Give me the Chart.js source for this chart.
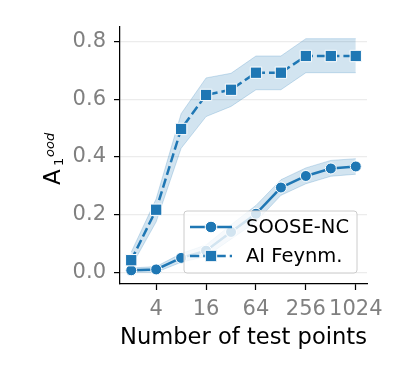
<!DOCTYPE html>
<html lang="en">
<head>
    <meta charset="UTF-8">
    <title>Test points chart</title>
    <script src="https://cdn.jsdelivr.net/npm/chart.js"></script>
    <style>
        body { margin: 0; background: #fff; }
        #wrap { width: 407px; height: 379px; }
    </style>
</head>
<body>
    <div id="wrap">
        <canvas id="pointsChart"></canvas>
    </div>

    <script>
        // values
        const testPoints = [2, 4, 8, 16, 32, 64, 128, 256, 512, 1024];
        const xTicks = [4, 16, 64, 256, 1024];
        const yTicks = [0.0, 0.2, 0.4, 0.6, 0.8];

        const sooseMean = [0.007, 0.010, 0.050, 0.075, 0.140, 0.203, 0.294, 0.334, 0.360, 0.367];
        const sooseLow  = [0.000, 0.000, 0.035, 0.055, 0.115, 0.175, 0.267, 0.307, 0.333, 0.340];
        const sooseHigh = [0.015, 0.020, 0.065, 0.095, 0.165, 0.232, 0.321, 0.362, 0.388, 0.394];

        const feynMean = [0.042, 0.217, 0.497, 0.615, 0.633, 0.692, 0.692, 0.750, 0.750, 0.750];
        const feynLow  = [0.020, 0.175, 0.430, 0.540, 0.575, 0.633, 0.633, 0.692, 0.692, 0.692];
        const feynHigh = [0.070, 0.255, 0.550, 0.674, 0.690, 0.750, 0.750, 0.810, 0.810, 0.810];

        const blue = '#1f77b4';
        const bandFill = 'rgba(31, 119, 180, 0.2)';
        const bandEdge = 'rgba(31, 119, 180, 0.22)';

        function pts(vals) {
            return testPoints.map((n, i) => ({ x: n, y: vals[i] }));
        }

        function band(vals, order, fill) {
            return {
                data: pts(vals),
                borderColor: bandEdge,
                borderWidth: 1,
                backgroundColor: bandFill,
                pointRadius: 0,
                fill: fill,
                order: order
            };
        }

        // legend box drawn inside the plot, like matplotlib's
        const legendBox = {
            id: 'legendBox',
            afterDraw(chart) {
                const ctx = chart.ctx;
                const a = chart.chartArea;
                const x1 = a.right - 10, y1 = a.bottom - 11;
                const x0 = x1 - 173, y0 = y1 - 62;
                ctx.save();
                ctx.beginPath();
                ctx.roundRect(x0, y0, x1 - x0, y1 - y0, 3);
                ctx.fillStyle = 'rgba(255,255,255,0.8)';
                ctx.fill();
                ctx.strokeStyle = '#cccccc';
                ctx.lineWidth = 1;
                ctx.stroke();

                const rows = [
                    { label: 'SOOSE-NC', dash: [], style: 'circle', y: y0 + 16 },
                    { label: 'AI Feynm.', dash: [9.25, 4], style: 'rect', y: y0 + 45 }
                ];
                rows.forEach(r => {
                    ctx.beginPath();
                    ctx.setLineDash(r.dash);
                    ctx.strokeStyle = blue;
                    ctx.lineWidth = 2.5;
                    ctx.moveTo(x0 + 6, r.y);
                    ctx.lineTo(x0 + 48, r.y);
                    ctx.stroke();
                    ctx.setLineDash([]);
                    ctx.fillStyle = blue;
                    ctx.strokeStyle = '#fff';
                    ctx.lineWidth = 1;
                    ctx.beginPath();
                    if (r.style === 'rect') {
                        ctx.rect(x0 + 27 - 5.7, r.y - 5.7, 11.4, 11.4);
                    } else {
                        ctx.arc(x0 + 27, r.y, 5.8, 0, Math.PI * 2);
                    }
                    ctx.fill();
                    ctx.stroke();
                    ctx.fillStyle = '#000';
                    ctx.font = '19.5px "DejaVu Sans"';
                    ctx.textBaseline = 'middle';
                    ctx.textAlign = 'left';
                    ctx.fillText(r.label, x0 + 62, r.y + 1);
                });
                ctx.restore();
            }
        };

        // y title A_1^ood, rotated
        const yTitle = {
            id: 'yTitle',
            afterDraw(chart) {
                const ctx = chart.ctx;
                ctx.save();
                ctx.translate(60, 185);
                ctx.rotate(-Math.PI / 2);
                ctx.fillStyle = '#000';
                ctx.textBaseline = 'alphabetic';
                ctx.textAlign = 'left';
                ctx.font = '23px "DejaVu Sans"';
                ctx.fillText('A', 0, 0);
                ctx.font = '13px "DejaVu Sans"';
                ctx.fillText('1', 19, 3);
                ctx.font = 'italic 13px "DejaVu Sans"';
                ctx.fillText('ood', 28, -6);
                ctx.restore();
            }
        };

        function createChart() {
            const ctx = document.getElementById('pointsChart').getContext('2d');
            new Chart(ctx, {
                type: 'line',
                data: {
                    datasets: [
                        band(sooseLow, 6, false),
                        band(sooseHigh, 5, 0),
                        {
                            label: 'SOOSE-NC',
                            data: pts(sooseMean),
                            borderColor: blue,
                            borderWidth: 2.5,
                            pointStyle: 'circle',
                            pointRadius: 5.5,
                            pointBackgroundColor: blue,
                            pointBorderColor: '#fff',
                            pointBorderWidth: 1,
                            fill: false,
                            order: 4
                        },
                        band(feynLow, 3, false),
                        band(feynHigh, 2, 3),
                        {
                            label: 'AI Feynm.',
                            data: pts(feynMean),
                            borderColor: blue,
                            borderWidth: 2.5,
                            borderDash: [9.25, 4],
                            pointStyle: 'rect',
                            pointRadius: 8,
                            pointBackgroundColor: blue,
                            pointBorderColor: '#fff',
                            pointBorderWidth: 1,
                            fill: false,
                            order: 1
                        }
                    ]
                },
                options: {
                    responsive: true,
                    maintainAspectRatio: false,
                    animation: false,
                    devicePixelRatio: 1,
                    layout: { padding: { left: 0, top: 27, right: 40, bottom: 0 } },
                    plugins: {
                        legend: { display: false },
                        tooltip: { enabled: false }
                    },
                    scales: {
                        x: {
                            type: 'logarithmic',
                            min: Math.pow(2, 0.55),
                            max: Math.pow(2, 10.45),
                            afterBuildTicks: s => { s.ticks = xTicks.map(v => ({ value: v })); },
                            afterFit: s => { s.height = 95; },
                            grid: {
                                drawOnChartArea: false,
                                tickColor: '#000',
                                tickLength: 6,
                                tickWidth: 1.25
                            },
                            border: { color: '#000', width: 1.25 },
                            ticks: {
                                color: '#808080',
                                font: { family: 'DejaVu Sans', size: 21 },
                                padding: 7,
                                maxRotation: 0,
                                autoSkip: false,
                                callback: v => String(v)
                            },
                            title: {
                                display: true,
                                text: 'Number of test points',
                                color: '#000',
                                font: { family: 'DejaVu Sans', size: 23 },
                                padding: { top: 0, bottom: 27 }
                            }
                        },
                        y: {
                            min: -0.0405,
                            max: 0.8505,
                            afterBuildTicks: s => { s.ticks = yTicks.map(v => ({ value: v })); },
                            afterFit: s => { s.width = 120; },
                            grid: {
                                color: '#ececec',
                                lineWidth: 1.2,
                                tickColor: '#000',
                                tickLength: 6,
                                tickWidth: 1.25
                            },
                            border: { color: '#000', width: 1.25 },
                            ticks: {
                                color: '#808080',
                                font: { family: 'DejaVu Sans', size: 21 },
                                padding: 8,
                                callback: v => v.toFixed(1)
                            }
                        }
                    }
                },
                plugins: [legendBox, yTitle]
            });
        }

        window.onload = createChart;
    </script>
</body>
</html>
